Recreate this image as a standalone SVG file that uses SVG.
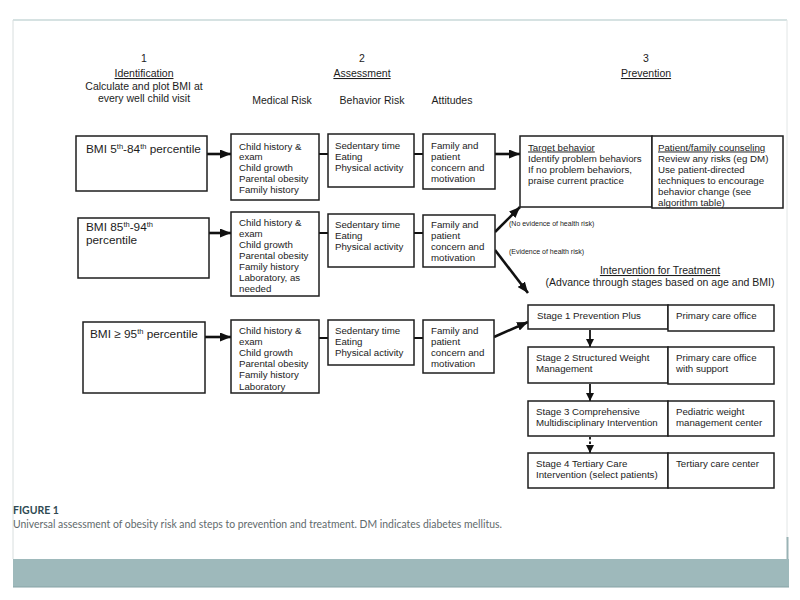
<svg xmlns="http://www.w3.org/2000/svg" width="800" height="600" viewBox="0 0 800 600">
<defs>
<style>
.box{fill:#fff;stroke:#1e1e1e;stroke-width:1.5}
.t{font-family:"Liberation Sans",Arial,sans-serif;font-size:9.7px;fill:#1c1c1c}
.b{font-size:11.8px}
.h{font-family:"Liberation Sans",Arial,sans-serif;font-size:10.5px;fill:#1c1c1c;text-anchor:middle}
.u{text-decoration:underline}
.sm{font-family:"Liberation Sans",Arial,sans-serif;font-size:7px;fill:#222}
.thin{stroke:#111;stroke-width:2;fill:none}
.ar{stroke:#111;stroke-width:2.6;fill:none;marker-end:url(#ah)}
.ars{stroke:#111;stroke-width:1.8;fill:none;marker-end:url(#ahs)}
</style>
<marker id="ah" markerUnits="userSpaceOnUse" markerWidth="11" markerHeight="9" refX="11" refY="4.5" orient="auto">
<path d="M0,0 L11,4.5 L0,9 z" fill="#111"/>
</marker>
<marker id="ahs" markerUnits="userSpaceOnUse" markerWidth="8" markerHeight="8" refX="8" refY="4" orient="auto">
<path d="M0,0 L8,4 L0,8 z" fill="#111"/>
</marker>
</defs>
<rect x="0" y="0" width="800" height="600" fill="#fff"/>
<g id="frame">
<line x1="13" y1="20" x2="787" y2="20" stroke="#aec6c6" stroke-width="1.2"/>
<line x1="13" y1="20" x2="13" y2="559" stroke="#d8dede" stroke-width="1"/>
<line x1="787" y1="20" x2="787" y2="540" stroke="#e2e6e6" stroke-width="1"/>
<line x1="787.5" y1="537" x2="787.5" y2="587" stroke="#9ab3b5" stroke-width="2"/>
<rect x="13" y="559" width="776" height="28" fill="#9eb9bb"/>
<line x1="13" y1="587" x2="789" y2="587" stroke="#86a2a5" stroke-width="1"/>
</g>
<g id="headers">
<text class="h" x="144" y="62">1</text>
<text class="h u" x="144" y="77">Identification</text>
<text class="h" x="144" y="90">Calculate and plot BMI at</text>
<text class="h" x="144" y="102">every well child visit</text>
<text class="h" x="362" y="62">2</text>
<text class="h u" x="362" y="77">Assessment</text>
<text class="h" x="282" y="104">Medical Risk</text>
<text class="h" x="372" y="104">Behavior Risk</text>
<text class="h" x="452" y="104">Attitudes</text>
<text class="h" x="646" y="62">3</text>
<text class="h u" x="646" y="77">Prevention</text>
</g>
<g id="connectors">
<line class="ar" x1="207" y1="154" x2="231" y2="154"/>
<line class="thin" x1="319" y1="154" x2="328" y2="154"/>
<line class="thin" x1="414" y1="154" x2="423" y2="154"/>
<line class="ar" x1="495" y1="154" x2="520" y2="154"/>
<line class="ar" x1="209" y1="233" x2="231" y2="233"/>
<line class="thin" x1="319" y1="233" x2="328" y2="233"/>
<line class="thin" x1="414" y1="233" x2="423" y2="233"/>
<line class="ar" x1="495" y1="232" x2="520" y2="207"/>
<line class="ar" x1="495" y1="250" x2="528" y2="293"/>
<line class="ar" x1="205" y1="337" x2="231" y2="337"/>
<line class="thin" x1="319" y1="338" x2="328" y2="338"/>
<line class="thin" x1="414" y1="338" x2="423" y2="338"/>
<line class="ar" x1="494" y1="337" x2="528" y2="322"/>
<line class="ars" x1="590" y1="330" x2="590" y2="347"/>
<line class="ars" x1="590" y1="384" x2="590" y2="401"/>
<line stroke="#111" stroke-width="1.8" stroke-dasharray="2.5,2" x1="590" y1="437" x2="590" y2="447"/>
<line class="ars" x1="590" y1="446" x2="590" y2="453"/>
<text class="sm" x="509" y="225.5">(No evidence of health risk)</text>
<text class="sm" x="509" y="253.5">(Evidence of health risk)</text>
</g>
<g id="bmi1">
<rect class="box" x="76" y="136" width="131" height="55"/>
<text class="t b" x="86" y="152.5">BMI 5<tspan dy="-4" font-size="7.5">th</tspan><tspan dy="4">-84</tspan><tspan dy="-4" font-size="7.5">th</tspan><tspan dy="4"> percentile</tspan></text>
</g>
<g id="med1">
<rect class="box" x="231" y="134" width="88" height="66"/>
<text class="t" x="239" y="149.5">Child history &amp;</text>
<text class="t" x="239" y="160.3">exam</text>
<text class="t" x="239" y="171.1">Child growth</text>
<text class="t" x="239" y="181.9">Parental obesity</text>
<text class="t" x="239" y="192.7">Family history</text>
</g>
<g id="beh1">
<rect class="box" x="328" y="134" width="86" height="53"/>
<text class="t" x="335" y="148.5">Sedentary time</text>
<text class="t" x="335" y="159.5">Eating</text>
<text class="t" x="335" y="170.5">Physical activity</text>
</g>
<g id="att1">
<rect class="box" x="423" y="134" width="72" height="55"/>
<text class="t" x="431" y="148.5">Family and</text>
<text class="t" x="431" y="159.5">patient</text>
<text class="t" x="431" y="170.5">concern and</text>
<text class="t" x="431" y="181.5">motivation</text>
</g>
<g id="prevention">
<rect class="box" x="520" y="136" width="132" height="71"/>
<rect class="box" x="652" y="136" width="131" height="72"/>
<text class="t u" x="528" y="150.5">Target behavior</text>
<text class="t" x="528" y="161.5">Identify problem behaviors</text>
<text class="t" x="528" y="172.5">If no problem behaviors,</text>
<text class="t" x="528" y="183.5">praise current practice</text>
<text class="t u" x="658" y="150.5">Patient/family counseling</text>
<text class="t" x="658" y="161.7">Review any risks (eg DM)</text>
<text class="t" x="658" y="172.9">Use patient-directed</text>
<text class="t" x="658" y="184.1">techniques to encourage</text>
<text class="t" x="658" y="195.3">behavior change (see</text>
<text class="t" x="658" y="206.3">algorithm table)</text>
</g>
<g id="bmi2">
<rect class="box" x="78" y="218" width="131" height="60"/>
<text class="t b" x="86" y="231">BMI 85<tspan dy="-4" font-size="7.5">th</tspan><tspan dy="4">-94</tspan><tspan dy="-4" font-size="7.5">th</tspan></text>
<text class="t b" x="86" y="244">percentile</text>
</g>
<g id="med2">
<rect class="box" x="231" y="212" width="88" height="84"/>
<text class="t" x="239" y="225.5">Child history &amp;</text>
<text class="t" x="239" y="236.6">exam</text>
<text class="t" x="239" y="247.7">Child growth</text>
<text class="t" x="239" y="258.8">Parental obesity</text>
<text class="t" x="239" y="269.9">Family history</text>
<text class="t" x="239" y="281">Laboratory, as</text>
<text class="t" x="239" y="292.1">needed</text>
</g>
<g id="beh2">
<rect class="box" x="328" y="214" width="86" height="53"/>
<text class="t" x="335" y="227.5">Sedentary time</text>
<text class="t" x="335" y="238.5">Eating</text>
<text class="t" x="335" y="249.5">Physical activity</text>
</g>
<g id="att2">
<rect class="box" x="423" y="215" width="72" height="52"/>
<text class="t" x="431" y="227.5">Family and</text>
<text class="t" x="431" y="238.5">patient</text>
<text class="t" x="431" y="250">concern and</text>
<text class="t" x="431" y="261">motivation</text>
</g>
<g id="bmi3">
<rect class="box" x="83" y="322" width="122" height="71"/>
<text class="t b" x="90" y="338">BMI ≥ 95<tspan dy="-4" font-size="7.5">th</tspan><tspan dy="4"> percentile</tspan></text>
</g>
<g id="med3">
<rect class="box" x="231" y="320" width="88" height="73"/>
<text class="t" x="239" y="333.5">Child history &amp;</text>
<text class="t" x="239" y="344.7">exam</text>
<text class="t" x="239" y="355.9">Child growth</text>
<text class="t" x="239" y="367.1">Parental obesity</text>
<text class="t" x="239" y="378.3">Family history</text>
<text class="t" x="239" y="389.5">Laboratory</text>
</g>
<g id="beh3">
<rect class="box" x="328" y="320" width="86" height="45"/>
<text class="t" x="335" y="333.5">Sedentary time</text>
<text class="t" x="335" y="344.7">Eating</text>
<text class="t" x="335" y="355.9">Physical activity</text>
</g>
<g id="att3">
<rect class="box" x="423" y="320" width="71" height="53"/>
<text class="t" x="431" y="333.5">Family and</text>
<text class="t" x="431" y="344.7">patient</text>
<text class="t" x="431" y="355.9">concern and</text>
<text class="t" x="431" y="367.1">motivation</text>
</g>
<g id="intervention-title">
<text class="h u" x="660" y="274" font-size="12.3">Intervention for Treatment</text>
<text class="h" x="660" y="285.5" font-size="9">(Advance through stages based on age and BMI)</text>
</g>
<g id="stage1">
<rect class="box" x="528" y="305" width="140" height="24"/>
<rect class="box" x="668" y="305" width="106" height="26"/>
<text class="t" x="537" y="318.5">Stage 1 Prevention Plus</text>
<text class="t" x="676" y="318.5">Primary care office</text>
</g>
<g id="stage2">
<rect class="box" x="528" y="347" width="140" height="36"/>
<rect class="box" x="668" y="347" width="106" height="37"/>
<text class="t" x="536" y="360.5">Stage 2 Structured Weight</text>
<text class="t" x="536" y="372">Management</text>
<text class="t" x="676" y="360.5">Primary care office</text>
<text class="t" x="676" y="372">with support</text>
</g>
<g id="stage3">
<rect class="box" x="528" y="401" width="140" height="35"/>
<rect class="box" x="668" y="401" width="106" height="35"/>
<text class="t" x="536" y="414.5">Stage 3 Comprehensive</text>
<text class="t" x="536" y="425.5">Multidisciplinary Intervention</text>
<text class="t" x="676" y="414.5">Pediatric weight</text>
<text class="t" x="676" y="425.5">management center</text>
</g>
<g id="stage4">
<rect class="box" x="528" y="453" width="140" height="35"/>
<rect class="box" x="668" y="453" width="106" height="35"/>
<text class="t" x="536" y="466.5">Stage 4 Tertiary Care</text>
<text class="t" x="536" y="477.5">Intervention (select patients)</text>
<text class="t" x="676" y="466.5">Tertiary care center</text>
</g>
<g id="caption">
<text x="13" y="514" font-family="Lato,'Open Sans',sans-serif" font-weight="bold" font-size="10.5" fill="#2f4a52">FIGURE 1</text>
<text x="13" y="528" font-family="Lato,'Open Sans',sans-serif" font-size="11" fill="#5f6a6c" textLength="489" lengthAdjust="spacingAndGlyphs">Universal assessment of obesity risk and steps to prevention and treatment. DM indicates diabetes mellitus.</text>
</g>
</svg>
